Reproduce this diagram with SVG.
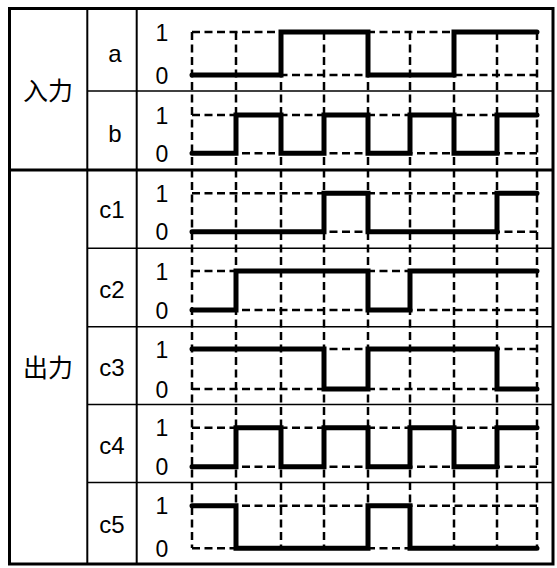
<svg xmlns="http://www.w3.org/2000/svg" width="557" height="568" viewBox="0 0 557 568">
<style>
.frame{fill:none;stroke:#000;stroke-width:3}
.col{stroke:#000;stroke-width:2}
.thin{stroke:#000;stroke-width:1.5}
.thick{stroke:#000;stroke-width:3}
.grid{fill:none;stroke:#000;stroke-width:2.5;stroke-dasharray:8 4.5}
.sig{fill:none;stroke:#000;stroke-width:5;stroke-linecap:round;stroke-linejoin:miter}
.lbl{font-family:"Liberation Sans",Arial,sans-serif;font-size:23px;fill:#000;text-anchor:middle}
.name{font-family:"Liberation Sans",Arial,sans-serif;font-size:24px;fill:#000;text-anchor:middle}
.cjk{font-family:"Liberation Sans","Noto Sans CJK SC",sans-serif;font-size:25px;fill:#000;text-anchor:middle}
</style>
<rect width="557" height="568" fill="#fff"/>
<g id="table">
<rect class="frame" x="9.5" y="8.5" width="543.5" height="555.5"/>
<line class="col" x1="87.3" y1="8.5" x2="87.3" y2="564"/>
<line class="col" x1="136.7" y1="8.5" x2="136.7" y2="564"/>
<line class="thin" x1="87.3" y1="91" x2="553" y2="91"/>
<line class="thick" x1="9.5" y1="170" x2="553" y2="170"/>
<line class="thin" x1="87.3" y1="248.3" x2="553" y2="248.3"/>
<line class="thin" x1="87.3" y1="326.7" x2="553" y2="326.7"/>
<line class="thin" x1="87.3" y1="404.5" x2="553" y2="404.5"/>
<line class="thin" x1="87.3" y1="482.5" x2="553" y2="482.5"/>
</g>
<g id="grid">
<path class="grid" d="M192 32V548M236 32V548M281 32V548M324 32V548M368 32V548M410 32V548M454 32V548M497 32V548M537 32V548"/>
<path class="grid" d="M192 32H537M192 75H537M192 115H537M192 153.3H537M192 193.3H537M192 231.7H537M192 271H537M192 310H537M192 349H537M192 389H537M192 427.7H537M192 466.7H537M192 505.7H537M192 548.3H537"/>
</g>
<g id="group-input">
<text class="cjk" x="48" y="99.5">入力</text>
</g>
<g id="group-output">
<text class="cjk" x="48" y="376.5">出力</text>
</g>
<g id="row-a">
<text class="name" x="115" y="62">a</text>
<text class="lbl" x="162" y="40.5">1</text>
<text class="lbl" x="162" y="83.5">0</text>
<path class="sig" d="M192 75H281V32H368V75H454V32H537"/>
</g>
<g id="row-b">
<text class="name" x="115" y="142">b</text>
<text class="lbl" x="162" y="123.5">1</text>
<text class="lbl" x="162" y="161.8">0</text>
<path class="sig" d="M192 153.3H236V115H281V153.3H324V115H368V153.3H410V115H454V153.3H497V115H537"/>
</g>
<g id="row-c1">
<text class="name" x="112" y="217.5">c1</text>
<text class="lbl" x="162" y="201.8">1</text>
<text class="lbl" x="162" y="240.2">0</text>
<path class="sig" d="M192 231.7H324V193.3H368V231.7H497V193.3H537"/>
</g>
<g id="row-c2">
<text class="name" x="112" y="297.5">c2</text>
<text class="lbl" x="162" y="279.5">1</text>
<text class="lbl" x="162" y="318.5">0</text>
<path class="sig" d="M192 310H236V271H368V310H410V271H537"/>
</g>
<g id="row-c3">
<text class="name" x="112" y="375.5">c3</text>
<text class="lbl" x="162" y="357.5">1</text>
<text class="lbl" x="162" y="397.5">0</text>
<path class="sig" d="M192 349H324V389H368V349H497V389H537"/>
</g>
<g id="row-c4">
<text class="name" x="112" y="453.5">c4</text>
<text class="lbl" x="162" y="436.2">1</text>
<text class="lbl" x="162" y="475.2">0</text>
<path class="sig" d="M192 466.7H236V427.7H281V466.7H324V427.7H368V466.7H410V427.7H454V466.7H497V427.7H537"/>
</g>
<g id="row-c5">
<text class="name" x="112" y="532.5">c5</text>
<text class="lbl" x="162" y="514.2">1</text>
<text class="lbl" x="162" y="556.8">0</text>
<path class="sig" d="M192 505.7H236V548.3H368V505.7H410V548.3H537"/>
</g>
</svg>
